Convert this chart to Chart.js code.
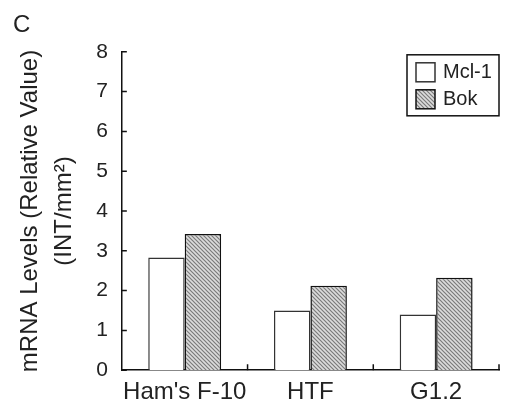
<!DOCTYPE html>
<html>
<head>
<meta charset="utf-8">
<script src="https://cdn.jsdelivr.net/npm/chart.js@4.4.0/dist/chart.umd.min.js"></script>
<style>
  html, body { margin: 0; padding: 0; background: #fff; }
  #wrap { width: 507px; height: 415px; }
</style>
</head>
<body>
<div id="wrap"><canvas id="myChart"></canvas></div>
<script>
const labels = ["Ham's F-10", 'HTF', 'G1.2'];
const mcl1 = [2.83, 1.5, 1.4];
const bok = [3.42, 2.12, 2.32];
const yMin = 0, yMax = 8, yStep = 1;

const font = '"Liberation Sans", Arial, sans-serif';

// diagonal hatch for the Bok bars
function hatch() {
  const c = document.createElement('canvas');
  c.width = 4; c.height = 4;
  const g = c.getContext('2d');
  g.fillStyle = '#dcdcdc';
  g.fillRect(0, 0, 4, 4);
  g.strokeStyle = '#7a7a7a';
  g.lineWidth = 1.2;
  g.beginPath();
  g.moveTo(-1, -1); g.lineTo(5, 5);
  g.moveTo(-1, 3); g.lineTo(1, 5);
  g.moveTo(3, -1); g.lineTo(5, 1);
  g.stroke();
  return g.createPattern(c, 'repeat');
}

// legend with a frame, inside the plot at top right
const boxLegend = {
  id: 'boxLegend',
  afterDatasetsDraw(chart) {
    const ctx = chart.ctx, a = chart.chartArea;
    const w = 92, h = 61, x = a.right - w, y = a.top + 3;
    ctx.save();
    ctx.fillStyle = '#fff';
    ctx.fillRect(x, y, w, h);
    ctx.lineWidth = 1.5;
    ctx.strokeStyle = '#111';
    ctx.strokeRect(x, y, w, h);
    ctx.font = '20px ' + font;
    ctx.textBaseline = 'middle';
    chart.data.datasets.forEach((ds, i) => {
      const sy = y + 8 + i * 27;
      ctx.fillStyle = ds.backgroundColor;
      ctx.fillRect(x + 9, sy, 19, 19);
      ctx.strokeStyle = ds.borderColor;
      ctx.lineWidth = 1.5;
      ctx.strokeRect(x + 9, sy, 19, 19);
      ctx.fillStyle = '#222';
      ctx.fillText(ds.label, x + 36, sy + 10);
    });
    ctx.restore();
  }
};

// tick marks pointing into the plot
const innerTicks = {
  id: 'innerTicks',
  afterDraw(chart) {
    const ctx = chart.ctx, xs = chart.scales.x, ys = chart.scales.y;
    ctx.save();
    ctx.strokeStyle = '#111';
    ctx.lineWidth = 1.5;
    ctx.beginPath();
    ys.ticks.forEach((t, i) => {
      const py = ys.getPixelForTick(i);
      ctx.moveTo(ys.right, py);
      ctx.lineTo(ys.right + 5, py);
    });
    labels.forEach((l, i) => {
      const px = xs.getPixelForValue(i + 0.5);
      ctx.moveTo(px, xs.top);
      ctx.lineTo(px, xs.top - 6);
    });
    ctx.stroke();
    ctx.restore();
  }
};

const data = {
  labels: labels,
  datasets: [
    {
      label: 'Mcl-1',
      data: mcl1,
      backgroundColor: '#ffffff',
      borderColor: '#333',
      borderWidth: 1.5
    },
    {
      label: 'Bok',
      data: bok,
      backgroundColor: hatch(),
      borderColor: '#111',
      borderWidth: 1.5
    }
  ]
};

const config = {
  type: 'bar',
  data: data,
  plugins: [boxLegend, innerTicks],
  options: {
    responsive: true,
    maintainAspectRatio: false,
    animation: false,
    layout: { padding: { left: 13, top: 0, right: 8, bottom: 0 } },
    datasets: {
      bar: { barPercentage: 1, categoryPercentage: 0.58 }
    },
    plugins: {
      legend: { display: false },
      tooltip: { enabled: false },
      title: {
        display: true,
        text: 'C',
        align: 'start',
        color: '#222',
        font: { family: font, size: 24, weight: 'normal' },
        padding: { top: 11, bottom: 12 }
      }
    },
    scales: {
      x: {
        grid: { display: false, drawTicks: false },
        border: { display: true, color: '#111', width: 1.5 },
        ticks: { color: '#222', padding: 8, maxRotation: 0, autoSkip: false, font: { family: font, size: 24 } }
      },
      y: {
        min: yMin,
        max: yMax,
        grid: { display: false, drawTicks: false },
        border: { display: true, color: '#111', width: 1.5 },
        ticks: { stepSize: yStep, color: '#222', padding: 14, font: { family: font, size: 21 } },
        title: {
          display: true,
          text: ['mRNA Levels (Relative Value)', '(INT/mm²)'],
          color: '#222',
          font: { family: font, size: 24, lineHeight: 1.42 },
          padding: { top: 0, bottom: 1 }
        }
      }
    }
  }
};

var myChart = new Chart(document.getElementById('myChart'), config);
</script>
</body>
</html>
